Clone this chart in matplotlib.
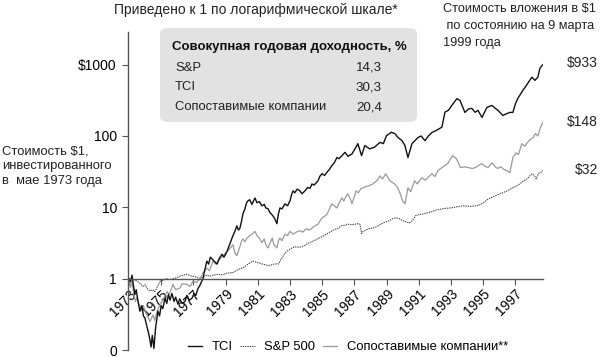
import matplotlib
matplotlib.use("Agg")
import matplotlib.pyplot as plt
from matplotlib.patches import FancyBboxPatch
from matplotlib.ticker import FixedLocator, NullLocator

plt.rcParams['font.family'] = ['Liberation Sans', 'DejaVu Sans']

# -------------------------------
# Data (value of $1 invested)
# -------------------------------
tci = [
    (1973.0, 1.0), (1973.1, 0.9), (1973.19, 1.12), (1973.28, 0.8), (1973.37, 0.6),
    (1973.45, 0.7), (1973.55, 0.5), (1973.68, 0.35), (1973.8, 0.42), (1973.9, 0.3),
    (1973.99, 0.28), (1974.1, 0.22), (1974.2, 0.18), (1974.3, 0.14), (1974.37, 0.11),
    (1974.45, 0.16), (1974.55, 0.105), (1974.65, 0.2), (1974.8, 0.35), (1974.9, 0.3),
    (1975.0, 0.42), (1975.1, 0.38), (1975.24, 0.53), (1975.35, 0.45), (1975.45, 0.6),
    (1975.55, 0.5), (1975.67, 0.62), (1975.8, 0.48), (1975.9, 0.55), (1976.04, 0.44),
    (1976.15, 0.52), (1976.3, 0.45), (1976.48, 0.48), (1976.6, 0.58), (1976.75, 0.5),
    (1976.91, 0.53), (1977.05, 0.62), (1977.15, 0.58), (1977.29, 0.73), (1977.4, 0.8),
    (1977.5, 0.9), (1977.6, 1.0), (1977.7, 1.3), (1977.84, 1.76), (1977.95, 1.6),
    (1978.05, 2.0), (1978.16, 1.9), (1978.3, 1.75), (1978.47, 1.6), (1978.6, 1.9),
    (1978.78, 2.2), (1978.9, 2.0), (1979.09, 2.4), (1979.2, 2.8), (1979.3, 3.2),
    (1979.4, 3.7), (1979.5, 4.2), (1979.58, 4.6), (1979.7, 5.5), (1979.8, 4.8),
    (1979.89, 5.1), (1980.0, 6.5), (1980.08, 8.1), (1980.2, 9.5), (1980.3, 11.5),
    (1980.39, 12.3), (1980.5, 12.8), (1980.64, 11.0), (1980.75, 12.5), (1980.83, 13.5),
    (1980.95, 11.6), (1981.1, 12.0), (1981.26, 10.5), (1981.4, 11.0), (1981.5, 9.8),
    (1981.63, 9.6), (1981.75, 8.5), (1981.94, 7.6), (1982.05, 7.0), (1982.19, 5.9),
    (1982.28, 8.0), (1982.38, 9.8), (1982.5, 9.5), (1982.69, 11.2), (1982.85, 10.5),
    (1983.0, 12.3), (1983.1, 15.0), (1983.19, 17.0), (1983.3, 16.0), (1983.45, 18.0),
    (1983.62, 17.0), (1983.75, 15.5), (1983.93, 17.0), (1984.1, 19.0), (1984.25, 18.5),
    (1984.37, 21.3), (1984.5, 20.5), (1984.74, 23.5), (1984.85, 27.0), (1984.99, 29.6),
    (1985.15, 28.0), (1985.3, 31.0), (1985.45, 34.0), (1985.61, 38.5), (1985.75, 42.0),
    (1985.92, 50.0), (1986.05, 48.0), (1986.23, 53.0), (1986.42, 59.0), (1986.6, 52.0),
    (1986.85, 56.0), (1987.04, 66.0), (1987.22, 78.0), (1987.45, 53.0), (1987.65, 73.5),
    (1987.95, 66.0), (1988.25, 69.6), (1988.6, 81.5), (1988.8, 78.0), (1989.0, 101.0),
    (1989.3, 113.0), (1989.52, 108.0), (1989.7, 96.0), (1989.96, 86.0), (1990.14, 74.0),
    (1990.33, 50.0), (1990.58, 78.0), (1990.95, 95.0), (1991.15, 100.0), (1991.39, 86.0),
    (1991.6, 100.0), (1991.82, 112.0), (1992.1, 120.0), (1992.44, 133.0), (1992.63, 216.0),
    (1992.85, 230.0), (1993.06, 269.0), (1993.37, 334.0), (1993.56, 316.0), (1993.87, 214.0),
    (1994.1, 240.0), (1994.3, 244.0), (1994.5, 215.0), (1994.68, 229.0), (1994.93, 182.0),
    (1995.24, 252.0), (1995.55, 268.0), (1995.75, 245.0), (1995.92, 229.0), (1996.23, 194.0),
    (1996.45, 205.0), (1996.66, 214.0), (1996.85, 214.0), (1997.0, 280.0), (1997.16, 337.0),
    (1997.3, 380.0), (1997.47, 437.0), (1997.6, 480.0), (1997.78, 550.0), (1997.9, 600.0),
    (1998.03, 667.0), (1998.22, 603.0), (1998.4, 667.0), (1998.53, 893.0), (1998.71, 1000.0),
]

peers = [
    (1973.0, 1.0), (1973.1, 0.75), (1973.2, 0.9), (1973.3, 0.6), (1973.4, 0.48),
    (1973.5, 0.55), (1973.6, 0.45), (1973.75, 0.38), (1973.9, 0.42), (1974.0, 0.35),
    (1974.15, 0.3), (1974.3, 0.25), (1974.4, 0.28), (1974.5, 0.31), (1974.6, 0.26),
    (1974.75, 0.35), (1974.93, 0.43), (1975.1, 0.5), (1975.36, 0.66), (1975.5, 0.6),
    (1975.73, 0.83), (1975.9, 0.7), (1976.17, 0.74), (1976.3, 0.85), (1976.6, 0.83),
    (1976.8, 0.78), (1976.98, 0.92), (1977.2, 0.88), (1977.41, 1.0), (1977.6, 1.2),
    (1977.84, 1.4), (1978.0, 1.3), (1978.22, 1.76), (1978.4, 1.6), (1978.65, 1.9),
    (1978.85, 2.1), (1979.09, 2.4), (1979.3, 2.7), (1979.46, 3.0), (1979.58, 2.3),
    (1979.7, 2.1), (1979.89, 2.8), (1980.0, 3.4), (1980.08, 3.6), (1980.2, 3.3),
    (1980.33, 3.7), (1980.5, 4.0), (1980.64, 4.2), (1980.83, 4.6), (1980.95, 4.0),
    (1981.1, 3.7), (1981.26, 3.2), (1981.4, 3.6), (1981.5, 3.0), (1981.63, 2.7),
    (1981.8, 3.3), (1981.9, 3.7), (1982.0, 3.0), (1982.19, 2.7), (1982.3, 3.5),
    (1982.38, 3.7), (1982.5, 3.4), (1982.69, 4.2), (1982.85, 4.0), (1983.0, 4.6),
    (1983.2, 4.2), (1983.4, 4.5), (1983.62, 4.7), (1983.8, 4.5), (1984.0, 5.0),
    (1984.2, 4.8), (1984.37, 5.1), (1984.5, 5.4), (1984.74, 5.8), (1984.99, 7.1),
    (1985.15, 7.5), (1985.3, 8.0), (1985.45, 9.5), (1985.6, 11.2), (1985.75, 10.5),
    (1985.92, 9.8), (1986.05, 11.5), (1986.23, 13.6), (1986.35, 12.3), (1986.5, 14.5),
    (1986.6, 15.5), (1986.75, 13.0), (1986.85, 11.2), (1987.0, 14.0), (1987.1, 17.0),
    (1987.25, 16.0), (1987.4, 18.2), (1987.55, 18.8), (1987.7, 19.5), (1987.9, 20.0),
    (1988.15, 21.3), (1988.4, 23.6), (1988.6, 27.6), (1988.75, 25.0), (1988.95, 29.6),
    (1989.2, 23.6), (1989.5, 21.3), (1989.7, 18.8), (1989.85, 15.5), (1990.0, 12.3),
    (1990.15, 11.2), (1990.33, 18.8), (1990.5, 16.5), (1990.75, 23.6), (1990.9, 21.3),
    (1991.2, 26.0), (1991.4, 24.0), (1991.6, 26.5), (1991.82, 29.6), (1992.0, 27.0),
    (1992.2, 33.0), (1992.44, 36.0), (1992.6, 38.0), (1992.8, 41.0), (1993.1, 53.0),
    (1993.35, 48.0), (1993.6, 36.0), (1993.85, 37.0), (1994.1, 36.0), (1994.35, 35.0),
    (1994.6, 37.0), (1994.9, 41.0), (1995.1, 38.0), (1995.3, 36.0), (1995.55, 42.0),
    (1995.75, 37.0), (1995.9, 35.0), (1996.1, 37.0), (1996.3, 34.0), (1996.5, 32.5),
    (1996.66, 30.5), (1996.85, 50.0), (1997.05, 58.0), (1997.2, 55.0), (1997.4, 78.0),
    (1997.6, 72.0), (1997.75, 81.0), (1997.9, 88.0), (1998.1, 95.0), (1998.25, 108.0),
    (1998.4, 100.0), (1998.55, 130.0), (1998.71, 155.0),
]

sp500 = [
    (1973.0, 1.0), (1973.19, 1.0), (1973.35, 0.95), (1973.5, 0.93), (1973.7, 0.85),
    (1973.87, 0.78), (1974.0, 0.82), (1974.15, 0.72), (1974.3, 0.67), (1974.45, 0.7),
    (1974.61, 0.66), (1974.8, 0.8), (1974.93, 0.92), (1975.1, 0.95), (1975.36, 1.0),
    (1975.55, 0.96), (1975.73, 1.0), (1975.9, 1.02), (1976.17, 1.08), (1976.35, 1.12),
    (1976.6, 1.15), (1976.8, 1.1), (1976.98, 1.08), (1977.2, 1.05), (1977.41, 1.0),
    (1977.6, 1.05), (1977.84, 1.12), (1978.0, 1.08), (1978.22, 1.12), (1978.5, 1.15),
    (1978.8, 1.13), (1979.1, 1.2), (1979.46, 1.22), (1979.8, 1.35), (1980.08, 1.42),
    (1980.4, 1.6), (1980.7, 1.76), (1981.0, 1.68), (1981.3, 1.6), (1981.7, 1.52),
    (1982.0, 1.6), (1982.3, 1.62), (1982.5, 1.95), (1982.7, 2.3), (1983.0, 2.6),
    (1983.3, 2.8), (1983.6, 2.75), (1983.9, 2.9), (1984.2, 3.2), (1984.5, 3.4),
    (1984.8, 3.7), (1985.1, 4.0), (1985.4, 4.4), (1985.7, 4.8), (1986.0, 5.1),
    (1986.2, 5.5), (1986.4, 5.6), (1986.6, 5.8), (1986.85, 5.7), (1987.04, 5.8),
    (1987.22, 5.9), (1987.35, 5.8), (1987.45, 4.3), (1987.55, 4.6), (1987.7, 4.8),
    (1987.9, 5.0), (1988.15, 5.1), (1988.4, 5.4), (1988.65, 5.8), (1988.9, 6.2),
    (1989.1, 6.4), (1989.3, 6.8), (1989.52, 7.1), (1989.75, 7.0), (1989.96, 6.6),
    (1990.2, 6.3), (1990.4, 6.0), (1990.6, 6.5), (1990.8, 7.6), (1991.0, 7.9),
    (1991.3, 8.1), (1991.6, 8.4), (1991.82, 8.7), (1992.1, 9.2), (1992.44, 9.5),
    (1992.7, 9.7), (1993.0, 9.8), (1993.4, 10.2), (1993.8, 10.5), (1994.2, 10.3),
    (1994.68, 10.6), (1994.9, 11.2), (1995.1, 12.0), (1995.3, 13.0), (1995.6, 14.0),
    (1995.9, 15.0), (1996.2, 16.0), (1996.5, 17.0), (1996.85, 18.8), (1997.1, 20.0),
    (1997.35, 22.0), (1997.6, 24.0), (1997.8, 26.0), (1998.03, 29.6), (1998.2, 27.5),
    (1998.3, 25.0), (1998.45, 30.0), (1998.6, 31.0), (1998.71, 33.0),
]

year_ticks = list(range(1973, 1998, 2))
y_ticks = [0.1, 1, 10, 100, 1000]
y_tick_labels = ["0", "1", "10", "100", "$1000"]

table_rows = ["S&P", "TCI", "Сопоставимые компании"]
table_vals = ["14,3", "30,3", "20,4"]
end_labels = ["$933", "$148", "$32"]
end_label_rows = [63, 122, 170]   # pixel rows of the end labels

W, H = 600, 357


def fx(px):
    return px / W


def fy(py):
    return 1 - py / H


# -------------------------------
# Figure and axes
# -------------------------------
fig = plt.figure(figsize=(6.0, 3.57), dpi=100)
ax = fig.add_axes([fx(128), fy(350), (543 - 128) / W, (350 - 32) / H])

ax.set_yscale('log')
ax.set_xlim(1972.94, 1998.72)
ax.set_ylim(0.1, 2870)

x, y = zip(*sp500)
ax.plot(x, y, color='#444444', lw=0.8, ls=(0, (1.2, 0.9)), label='S&P 500')
x, y = zip(*peers)
ax.plot(x, y, color='#9a9a9a', lw=0.9, label='Сопоставимые компании**')
x, y = zip(*tci)
ax.plot(x, y, color='#111111', lw=1.0, label='TCI')

# Axis styling: x axis sits on the value 1
for s in ['top', 'right']:
    ax.spines[s].set_visible(False)
ax.spines['bottom'].set_position(('data', 1))
ax.spines['bottom'].set_color('#555555')
ax.spines['left'].set_color('#555555')
ax.spines['bottom'].set_linewidth(1.0)
ax.spines['left'].set_linewidth(1.0)

ax.yaxis.set_major_locator(FixedLocator(y_ticks))
ax.yaxis.set_minor_locator(NullLocator())
ax.set_yticklabels(y_tick_labels)
ax.xaxis.set_major_locator(FixedLocator(year_ticks))
ax.xaxis.set_minor_locator(NullLocator())
ax.set_xticklabels([str(t) for t in year_ticks], rotation=45, ha='right',
                   va='top', rotation_mode='anchor')
ax.tick_params(axis='y', length=4, width=0.8, color='#555555', labelsize=10, pad=4)
ax.tick_params(axis='x', length=4, width=0.8, color='#555555', labelsize=10, pad=2)

# -------------------------------
# Legend
# -------------------------------
handles, labels = ax.get_legend_handles_labels()
order = [2, 0, 1]
fig.legend([handles[i] for i in order], [labels[i] for i in order],
           loc='center', bbox_to_anchor=(fx(348), fy(347)), ncol=3,
           frameon=False, fontsize=9.4, handlelength=1.1, handletextpad=0.75,
           columnspacing=0.55, borderpad=0)

# -------------------------------
# Texts
# -------------------------------
fig.text(fx(256), fy(10), "Приведено к 1 по логарифмической шкале*",
         ha='center', va='center', fontsize=10, color='#222222')
fig.text(fx(443), fy(3), "Стоимость вложения в $1\n по состоянию на 9 марта\n1999 года",
         ha='left', va='top', fontsize=9.2, color='#222222', linespacing=1.55)
fig.text(fx(2), fy(145), "Стоимость $1,\nинвестированного\nв  мае 1973 года",
         ha='left', va='top', fontsize=9.4, color='#222222', linespacing=1.33)

for lab, row in zip(end_labels, end_label_rows):
    fig.text(fx(598), fy(row), lab, ha='right', va='center', fontsize=10,
             color='#222222')

# Summary box
box = FancyBboxPatch((fx(160), fy(122)), 257 / W, 94 / H,
                     boxstyle='round,pad=0,rounding_size=0.015',
                     transform=fig.transFigure, facecolor='#e2e2e2',
                     edgecolor='none', zorder=0)
fig.patches.append(box)
fig.text(fx(172), fy(47), "Совокупная годовая доходность, %", ha='left',
         va='center', fontsize=9.5, fontweight='bold', color='#111111')
for i, (r, v) in enumerate(zip(table_rows, table_vals)):
    fig.text(fx(175), fy(68 + 19.5 * i), r, ha='left', va='center',
             fontsize=9.4, color='#222222')
    fig.text(fx(382), fy(68 + 19.5 * i), v, ha='right', va='center',
             fontsize=9.6, color='#222222')

fig.savefig("out.png", dpi=100)
